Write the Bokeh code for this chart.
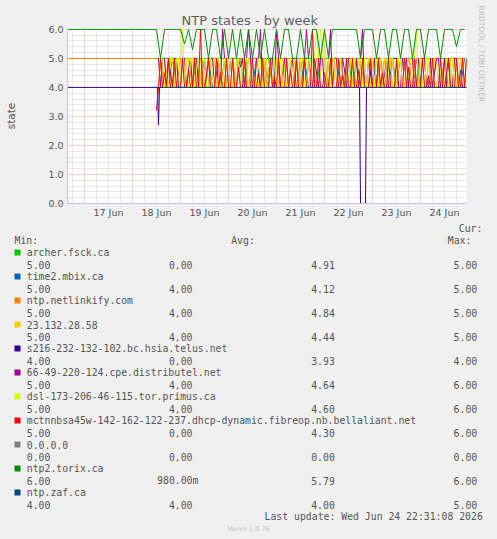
import numpy as np
import pandas as pd
from bokeh.plotting import figure
from bokeh.models import Range1d, FixedTicker, DatetimeTickFormatter, Title
from bokeh.layouts import column
from bokeh.embed import file_html
from bokeh.resources import INLINE
from bokeh.core.properties import value

try:
    from bokeh.models import GlobalInlineStyleSheet
    page_sheets = [GlobalInlineStyleSheet(css="body { background: #f0f0f0; }")]
except Exception:
    page_sheets = []

# ------------------------------------------------------------------ data
series_names = [
    "archer.fsck.ca",
    "time2.mbix.ca",
    "ntp.netlinkify.com",
    "23.132.28.58",
    "s216-232-132-102.bc.hsia.telus.net",
    "66-49-220-124.cpe.distributel.net",
    "dsl-173-206-46-115.tor.primus.ca",
    "mctnnbsa45w-142-162-122-237.dhcp-dynamic.fibreop.nb.bellaliant.net",
    "0.0.0.0",
    "ntp2.torix.ca",
    "ntp.zaf.ca",
]
series_colors = ["#00CC00", "#0066B3", "#FF8000", "#FFCC00", "#330099", "#990099",
                 "#CCFF00", "#FF0000", "#808080", "#008F00", "#00487D"]

leg_col1 = ["5.00", "5.00", "5.00", "5.00", "4.00", "5.00", "5.00", "5.00", "0.00", "6.00", "4.00"]
leg_col2 = ["0.00", "4.00", "4.00", "4.00", "0.00", "4.00", "4.00", "0.00", "0.00", "980.00m", "4.00"]
leg_col3 = ["4.91", "4.12", "4.84", "4.44", "3.93", "4.64", "4.60", "4.30", "0.00", "5.79", "4.00"]
leg_col4 = ["5.00", "5.00", "5.00", "5.00", "4.00", "6.00", "6.00", "6.00", "0.00", "6.00", "5.00"]

t_start = "2026-06-16 15:30"
t_end = "2026-06-24 23:00"
t_grid2_start = "2026-06-18 10:00"   # 2-hourly samples from here on
n_grid2 = 79
t_grid1_start = "2026-06-18 12:00"   # hourly samples from here on
n_grid1 = 156

# --- 2-hourly series
archer = [None,
          5, 5, 5, 5, 5, 5, 5, 5, 5, 5,
          5, 4, 5, 5, 5, 5, 5, 5, 5, 5,
          5, 5, 4, 5, 5, 5, 5, 5, 5, 4,
          5, 5, 5, 5, 5, 5, 5, 5, 5, 5,
          4, 5, 5, 5, 5, 5, 5, 5, 5, 4,
          5, 5, 5, 5, 5, 5, 5, 4, 5, 5,
          5, 5, 5, 5, 5, 4, 5, 5, 5, 5,
          5, 5, 5, 5, 5, 5, 5, 5]
time2 = [None,
         4, 4, 4, 4, 5, 4, 4, 4, 4, 4,
         4, 4, 4, 5, 4, 4, 4, 4, 4, 4,
         4, 4, 4, 4, 4, 5, 4, 4, 4, 4,
         4, 4, 4, 4, 4, 4, 4, 5, 4, 4,
         4, 4, 4, 4, 4, 4, 5, 4, 4, 4,
         4, 4, 4, 4, 5, 4, 4, 4, 4, 5,
         4, 4, 4, 4, 4, 5, 4, 4, 4, 4,
         4, 4, 5, 4, 4, 4, 4, 5]
netlinkify_pre = 5
netlinkify = [5,
              5, 5, 4, 5, 5, 4, 5, 5, 5, 4,
              5, 5, 4, 5, 5, 5, 4, 5, 5, 5,
              4, 5, 5, 4, 5, 5, 5, 5, 4, 5,
              5, 4, 5, 5, 5, 4, 5, 5, 5, 4,
              5, 5, 5, 4, 5, 5, 5, 4, 5, 5,
              5, 4, 5, 5, 5, 5, 4, 5, 5, 5,
              4, 5, 5, 5, 4, 5, 5, 5, 5, 4,
              5, 5, 4, 5, 5, 5, 5, 5]
ntp2_pre = 6
ntp2 = [6, 6, 5, 6, 6, 6, 6, 6, 5.5, 6,
        5.3, 6, 6, 6, 5, 6, 6, 5, 6, 5,
        6, 5, 6, 5, 6, 5, 6, 5, 6, 5,
        5, 6, 5, 6, 6, 5, 5, 6, 5, 5,
        6, 6, 5, 6, 5, 6, 6, 6, 6, 6,
        6, 6, 5, 6, 6, 6, 5, 6, 6, 5,
        6, 6, 5, 6, 6, 5, 6, 6, 5, 6,
        6, 6, 5, 6, 6, 6, 5.4, 6, 6]

# --- hourly series (12 values = half a day per row)
yellow = [None, 5, 4, 5, 5, 4, 4.5, 5, 4, 4, 5, 4,
          4, 5, 4.6, 4, 5, 5, 4, 4, 5, 4, 4.5, 5,
          4, 4, 5, 4, 4.4, 5, 4, 5, 5, 4, 4, 5,
          4, 5, 4, 4, 5, 4.6, 4, 5, 4, 4, 5, 5,
          4, 4, 5, 4, 5, 4, 4.5, 5, 4, 5, 4, 4,
          5, 4, 4, 5, 5, 4, 4, 5, 4, 4.7, 5, 4,
          4, 5, 4, 4, 5, 4, 5, 5, 4, 4, 4.5, 5,
          5, 4, 5, 5, 4, 4.4, 5, 4, 5, 4, 4, 5,
          4, 4, 5, 4, 5, 5, 4, 4.6, 5, 4, 4, 4,
          5, 4, 4, 5, 4, 4, 5, 4.5, 4, 5, 4, 4,
          4, 5, 5, 4, 4, 5, 4, 4, 5, 4.6, 4, 5,
          4, 4, 5, 4, 5, 4, 4, 5, 5, 4, 4.5, 4,
          5, 4, 4, 5, 4, 5, 4, 4.4, 5, 4, 4, 5]
magenta = [None, 5, 4, 5, 5, 4, 5, 4.5, 4, 5, 5, 4,
           4, 5, 5, 4, 4.6, 5, 4, 5, 5, 4, 4, 5,
           5, 4, 4, 5, 5, 4, 4.5, 5, 4, 6, 5, 4,
           4, 5, 5, 4, 4, 5, 4.7, 5, 4, 5, 6, 5,
           4, 4, 5, 5, 6, 4, 5, 4, 4.5, 5, 5, 4,
           6, 5, 4, 4, 5, 5, 4, 4.6, 5, 4, 5, 4,
           5, 4, 5, 6, 5, 4, 4, 5, 4.5, 4, 5, 5,
           4, 4, 5, 6, 4, 5, 5, 4, 4, 5, 4.6, 4,
           5, 5, 4, 4, 5, 4, 5, 6, 4, 4, 5, 4.5,
           4, 5, 4, 5, 5, 4, 4.4, 5, 4, 4, 5, 5,
           5, 4, 4, 5, 4.6, 5, 4, 5, 5, 4, 4, 5,
           4, 5, 5, 4, 4, 5, 4, 4.5, 5, 5, 4, 4,
           5, 4, 5, 4, 4, 5, 5, 4, 4.6, 4, 4, 5]
lime = [None, 4, 5, 5, 4, 4.5, 4, 5, 5, 4, 5, 5,
        4, 6, 4, 5, 4, 5, 5, 4, 4.6, 5, 4, 5,
        5, 4, 4, 5, 4.5, 4, 5, 5, 4, 4, 5, 4,
        4, 5, 5, 4, 4, 5, 4, 4.7, 5, 5, 4, 4,
        5, 4, 4, 5, 5, 4, 5, 4, 4.5, 5, 4, 5,
        4, 5, 5, 4, 4.6, 5, 4, 5, 4, 5, 5, 4,
        5, 4, 4, 5, 5, 4, 5, 5, 6, 5, 6, 5,
        6, 4, 5, 4, 4.5, 5, 4, 5, 5, 4, 4, 5,
        4, 5, 4, 5, 4, 4.4, 5, 4, 5, 4, 5, 5,
        5, 4, 5, 4, 5, 4, 4, 5, 4.6, 4, 5, 4,
        4, 5, 5, 4, 5, 4, 4.5, 5, 4, 5, 6, 4,
        5, 4, 4, 5, 5, 4, 5, 4, 4, 4.6, 5, 4,
        4, 5, 4, 4.5, 5, 4, 5, 4, 4, 5, 4, 5]
red = [3.2, 4, 5, 4, 4.5, 4, 5, 4, 4, 5, 4, 4,
       4, 5, 4, 4, 4.6, 4, 4, 5, 4, 4, 6, 4,
       4, 4.4, 5, 4, 4, 4, 5, 4, 4.5, 4, 4, 5,
       4, 4, 5, 4, 4, 4.7, 4, 4, 5, 4, 4, 4,
       5, 4, 4, 4.5, 4, 5, 4, 4, 4, 5, 4, 4.3,
       4, 5, 4, 4, 4, 5, 4, 4.6, 4, 4, 5, 4,
       4, 4, 5, 4, 4, 4, 6, 4, 4, 5, 4, 4,
       4.5, 4, 4, 5, 4, 4, 4, 5, 4, 4.4, 4, 5,
       4, 4, 5, 4, 4, 4.6, 4, 5, 4, 4, 4, 5,
       4, 4, 4, 5, 4, 4.5, 4, 4, 5, 4, 4, 4,
       5, 4, 4, 4, 5, 4, 4.7, 4, 4, 5, 4, 4,
       4, 5, 4, 4, 4.4, 4, 5, 4, 4, 4, 5, 4,
       4, 4.5, 5, 4, 4, 4, 5, 4, 4, 5, 4, 5]

# --- irregular / flat series
s216_times = ["2026-06-16 15:30", "2026-06-18 12:30", "2026-06-18 13:00", "2026-06-18 13:30",
              "2026-06-22 17:30", "2026-06-22 18:00", "2026-06-22 20:30", "2026-06-22 21:00",
              "2026-06-24 23:00"]
s216 = [4, 4, 2.7, 4, 4, 0, 0, 4, 4]
flat_times = ["2026-06-18 12:00", "2026-06-24 23:00"]
gray = [0, 0]
zaf = [4, 4]

x_days = ["2026-06-17", "2026-06-18", "2026-06-19", "2026-06-20",
          "2026-06-21", "2026-06-22", "2026-06-23", "2026-06-24"]
x_tick_labels = ["17 Jun", "18 Jun", "19 Jun", "20 Jun", "21 Jun", "22 Jun", "23 Jun", "24 Jun"]
y_ticks = [0, 1, 2, 3, 4, 5, 6]
y_tick_labels = ["0.0", "1.0", "2.0", "3.0", "4.0", "5.0", "6.0"]


def ms(ts):
    if isinstance(ts, str):
        return pd.Timestamp(ts).value / 1e6
    return (pd.to_datetime(ts).astype("int64") / 1e6).to_numpy()


def grid(start, n, freq):
    return (pd.date_range(start, periods=n, freq=freq).astype("int64") / 1e6).to_numpy()


grid2 = grid(t_grid2_start, n_grid2, "2h")
grid1 = grid(t_grid1_start, n_grid1, "1h")
start_ms = ms(t_start)
end_ms = ms(t_end)

# ------------------------------------------------------------------ chart
BG = "#F0F0F0"
AXC = "#C4C4EE"
TXT = "#555555"

p1 = figure(width=497, height=221, x_axis_type="datetime",
            x_range=Range1d(start_ms, end_ms), y_range=Range1d(0, 6.03),
            toolbar_location=None, output_backend="svg",
            title="NTP states - by week",
            min_border_left=67, min_border_right=31, min_border_top=28, min_border_bottom=18)
p1.background_fill_color = "white"
p1.border_fill_color = BG
p1.outline_line_color = None

p1.title.align = "left"
p1.title.offset = 114
p1.title.standoff = 2
p1.title.text_font = "DejaVu Sans"
p1.title.text_font_size = "13px"
p1.title.text_font_style = "normal"
p1.title.text_color = "#606060"

p1.add_layout(Title(text="RRDTOOL / TOBI OETIKER", align="left", offset=-23, standoff=20,
                    text_font="DejaVu Sans", text_font_size="7.5px", text_font_style="normal",
                    text_color="#BBBBBB"), "right")

noon_ms = [ms(d + " 12:00") for d in x_days]
mid_ms = [ms(d + " 00:00") for d in x_days]
six_h = grid("2026-06-16 18:00", 33, "6h")
six_h = [v for v in six_h if v not in mid_ms]

xax = p1.xaxis[0]
xax.ticker = FixedTicker(ticks=noon_ms)
xax.formatter = DatetimeTickFormatter(hours="%d %b", days="%d %b", months="%d %b")
xax.major_label_overrides = {t: lab for t, lab in zip(noon_ms, x_tick_labels)}
yax = p1.yaxis[0]
yax.ticker = FixedTicker(ticks=y_ticks, minor_ticks=[v / 5 for v in range(1, 30) if v % 5])
yax.major_label_overrides = {t: lab for t, lab in zip(y_ticks, y_tick_labels)}
yax.axis_label = "state"
yax.axis_label_standoff = 28
yax.axis_label_text_font = "DejaVu Sans"
yax.axis_label_text_font_size = "10.5px"
yax.axis_label_text_font_style = "normal"
yax.axis_label_text_color = TXT
for ax, so in ((xax, 3), (yax, 4)):
    ax.axis_line_color = AXC
    ax.major_tick_line_color = None
    ax.minor_tick_line_color = None
    ax.major_tick_out = 0
    ax.major_tick_in = 0
    ax.minor_tick_out = 0
    ax.minor_tick_in = 0
    ax.major_label_standoff = so
    ax.major_label_text_font = "DejaVu Sans"
    ax.major_label_text_font_size = "9.5px"
    ax.major_label_text_color = TXT

p1.xgrid.ticker = FixedTicker(ticks=mid_ms, minor_ticks=six_h)
p1.ygrid.ticker = yax.ticker
for g in (p1.xgrid[0], p1.ygrid[0]):
    g.grid_line_color = "#EFA0A0"
    g.grid_line_dash = "1 1"
    g.grid_line_width = 1
    g.minor_grid_line_color = "#D2D2D2"
    g.minor_grid_line_dash = "1 1"
    g.minor_grid_line_width = 1


def arr(v):
    return np.array([np.nan if a is None else a for a in v], dtype=float)


pre_grid2 = np.concatenate([[start_ms], grid2])
plots = [
    (grid2, arr(archer)),
    (grid2, arr(time2)),
    (pre_grid2, arr([netlinkify_pre] + netlinkify)),
    (grid1, arr(yellow)),
    (ms(s216_times), arr(s216)),
    (grid1, arr(magenta)),
    (grid1, arr(lime)),
    (grid1, arr(red)),
    (ms(flat_times), arr(gray)),
    (pre_grid2, arr([ntp2_pre] + ntp2)),
    (ms(flat_times), arr(zaf)),
]
for (xs, ys), col in zip(plots, series_colors):
    p1.line(xs, ys, line_color=col, line_width=1)

# ------------------------------------------------------------------ legend block
p2 = figure(width=497, height=318, x_range=Range1d(0, 497), y_range=Range1d(318, 0),
            toolbar_location=None, output_backend="svg", min_border=0,
            x_axis_location=None, y_axis_location=None)
p2.grid.visible = False
p2.outline_line_color = None
p2.background_fill_color = BG
p2.border_fill_color = BG

for pl in (p1, p2):
    try:
        pl.frame_align = False
    except Exception:
        pass

MONO = value("DejaVu Sans Mono")
FS = "9.8px"
CW = 5.9
n = len(series_names)
name_y = [31 + 24 * i for i in range(n)]
val_y = [43 + 24 * i for i in range(n)]

p2.text(x=[458.3, 14, 230.7, 447.3], y=[7, 19, 19, 19], text=["Cur:", "Min:", "Avg:", "Max:"],
        text_font=MONO, text_font_size=FS, text_color=TXT, text_baseline="middle", text_align="left")
p2.rect(x=[17] * n, y=name_y, width=6, height=6, fill_color=series_colors, line_color=None)
p2.text(x=[26.3] * n, y=name_y, text=series_names, text_font=MONO, text_font_size=FS,
        text_color=TXT, text_baseline="middle", text_align="left")
p2.text(x=[26.3] * n, y=val_y, text=leg_col1, text_font=MONO, text_font_size=FS,
        text_color=TXT, text_baseline="middle", text_align="left")
p2.text(x=[192 + (CW if s[-1].isalpha() else 0) for s in leg_col2], y=val_y, text=leg_col2,
        text_font=MONO, text_font_size=FS, text_color=TXT, text_baseline="middle", text_align="right")
p2.text(x=[334.3] * n, y=val_y, text=leg_col3, text_font=MONO, text_font_size=FS,
        text_color=TXT, text_baseline="middle", text_align="right")
p2.text(x=[476.7] * n, y=val_y, text=leg_col4, text_font=MONO, text_font_size=FS,
        text_color=TXT, text_baseline="middle", text_align="right")
p2.text(x=[482.3], y=[295], text=["Last update: Wed Jun 24 22:31:08 2026"], text_font=MONO,
        text_font_size=FS, text_color=TXT, text_baseline="middle", text_align="right")
p2.text(x=[248], y=[307], text=["Munin 2.0.76"], text_font=value("DejaVu Sans"),
        text_font_size="6.5px", text_color="#C4C4C4", text_baseline="middle", text_align="center")

layout = column(p1, p2, spacing=0, stylesheets=page_sheets)
open("out.html", "w").write(file_html(layout, INLINE))
